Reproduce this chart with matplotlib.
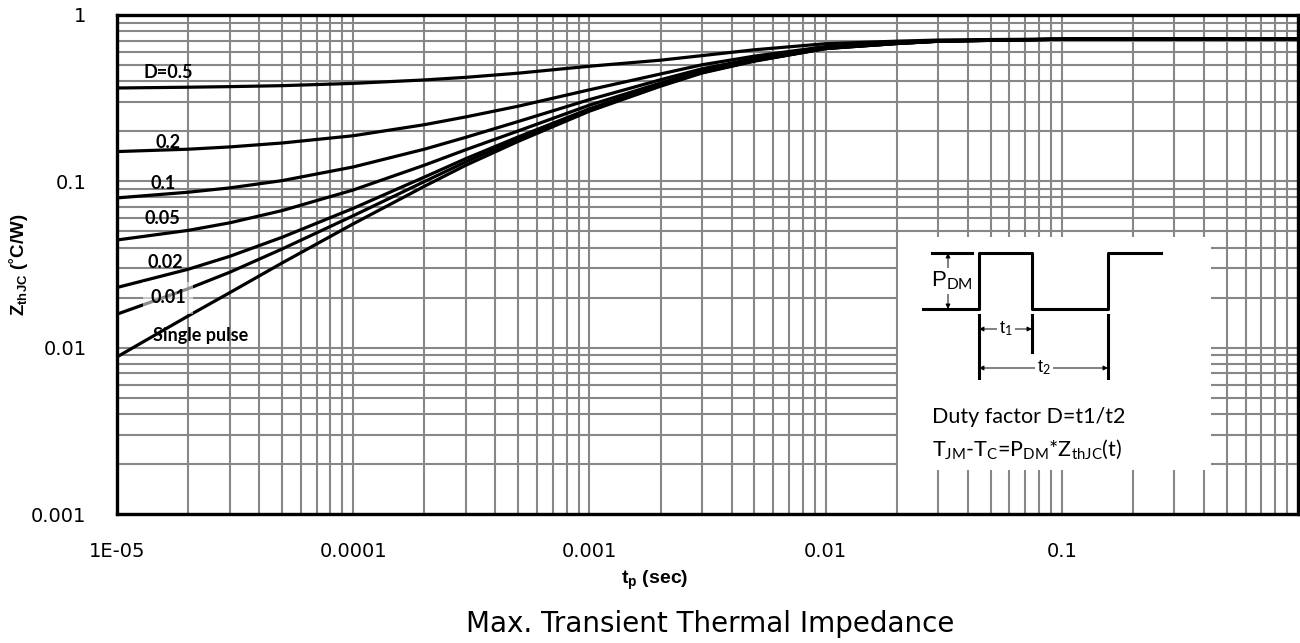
import numpy as np
import matplotlib
matplotlib.use('Agg')
from matplotlib import pyplot as plt
from matplotlib.ticker import LogLocator, NullFormatter, FixedLocator, FixedFormatter

plt.rcParams['mathtext.fontset'] = 'custom'
plt.rcParams['mathtext.rm'] = 'Lato'
plt.rcParams['mathtext.bf'] = 'Liberation Sans:bold'
plt.rcParams['mathtext.it'] = 'Lato:italic'

# pulse width (s)
t_p = [1e-5, 2e-5, 3e-5, 5e-5, 1e-4, 2e-4, 3e-4, 5e-4, 1e-3, 2e-3,
       3e-3, 5e-3, 1e-2, 2e-2, 3e-2, 5e-2, 1e-1, 2e-1, 5e-1, 1.0]

# Z_thJC (C/W) for each duty factor
z_d05 = [0.364, 0.368, 0.371, 0.376, 0.388, 0.407, 0.422, 0.447, 0.492, 0.535,
         0.570, 0.618, 0.672, 0.696, 0.707, 0.712, 0.717, 0.719, 0.72, 0.72]
z_d02 = [0.151, 0.156, 0.161, 0.170, 0.188, 0.219, 0.244, 0.283, 0.355, 0.442,
         0.502, 0.566, 0.646, 0.682, 0.700, 0.707, 0.716, 0.719, 0.72, 0.72]
z_d01 = [0.0795, 0.0860, 0.0913, 0.101, 0.122, 0.156, 0.184, 0.229, 0.310, 0.408,
         0.475, 0.547, 0.637, 0.678, 0.697, 0.706, 0.715, 0.719, 0.72, 0.72]
z_d005 = [0.0444, 0.0507, 0.0563, 0.0667, 0.0887, 0.125, 0.155, 0.201, 0.287, 0.390,
          0.462, 0.538, 0.633, 0.675, 0.696, 0.705, 0.715, 0.719, 0.72, 0.72]
z_d002 = [0.0230, 0.0296, 0.0354, 0.0461, 0.0688, 0.106, 0.137, 0.185, 0.273, 0.380,
          0.453, 0.532, 0.630, 0.674, 0.696, 0.704, 0.715, 0.719, 0.72, 0.72]
z_d001 = [0.0159, 0.0226, 0.0284, 0.0392, 0.0621, 0.0996, 0.131, 0.180, 0.269, 0.377,
          0.451, 0.530, 0.629, 0.674, 0.695, 0.704, 0.715, 0.719, 0.72, 0.72]
z_single = [0.0088, 0.0155, 0.0214, 0.0323, 0.0555, 0.0933, 0.125, 0.174, 0.264, 0.373,
            0.448, 0.528, 0.628, 0.673, 0.695, 0.704, 0.715, 0.719, 0.72, 0.72]

curves = [z_d05, z_d02, z_d01, z_d005, z_d002, z_d001, z_single]

# label text and where it sits (t, Z)
curve_labels = ['D=0.5', '0.2', '0.1', '0.05', '0.02', '0.01', 'Single pulse']
label_t = [1.29e-5, 1.45e-5, 1.39e-5, 1.31e-5, 1.34e-5, 1.38e-5, 1.42e-5]
label_z = [0.454, 0.172, 0.0964, 0.0601, 0.0323, 0.0199, 0.0119]

x_ticks = [1e-5, 1e-4, 1e-3, 1e-2, 1e-1]
x_labels = ['1E-05', '0.0001', '0.001', '0.01', '0.1']
y_ticks = [1e-3, 1e-2, 1e-1, 1]
y_labels = ['0.001', '0.01', '0.1', '1']

fig = plt.figure(figsize=(13, 6.43), dpi=100)
ax = fig.add_axes([117 / 1300, 1 - 514 / 643, (1298 - 117) / 1300, (514 - 15) / 643])

for z in curves:
    ax.plot(t_p, z, color='black', lw=2.3, solid_capstyle='round', zorder=3)

ax.set_xscale('log')
ax.set_yscale('log')
ax.set_xlim(1e-5, 1)
ax.set_ylim(1e-3, 1)

ax.xaxis.set_major_locator(FixedLocator(x_ticks))
ax.xaxis.set_major_formatter(FixedFormatter(x_labels))
ax.yaxis.set_major_locator(FixedLocator(y_ticks))
ax.yaxis.set_major_formatter(FixedFormatter(y_labels))
ax.xaxis.set_minor_locator(LogLocator(base=10, subs=np.arange(2, 10), numticks=20))
ax.yaxis.set_minor_locator(LogLocator(base=10, subs=np.arange(2, 10), numticks=20))
ax.xaxis.set_minor_formatter(NullFormatter())
ax.yaxis.set_minor_formatter(NullFormatter())
ax.tick_params(which='both', length=0, labelsize=14)
ax.tick_params(axis='x', pad=20)
ax.tick_params(axis='y', pad=22)
ax.grid(which='both', color='#878787', lw=1.5, zorder=1)
for s in ax.spines.values():
    s.set_linewidth(2.4)
    s.set_zorder(4)

# curve labels
lab = dict(fontsize=13, fontweight='bold', family=['Lato', 'DejaVu Sans'],
           va='center', ha='left', zorder=5)
for text, t, z in zip(curve_labels, label_t, label_z):
    if text == '0.01':
        ax.text(t, z, text, bbox=dict(boxstyle='square,pad=0.4', fc='white', ec='none', alpha=0.55), **lab)
    else:
        ax.text(t, z, text, **lab)

ax.set_ylabel(r'$\mathbf{Z_{thJC}}$ (˚C/W)', fontsize=13.5, fontweight='bold',
              family=['Liberation Sans', 'DejaVu Sans'])
ax.yaxis.set_label_coords(-0.074, 0.5)
fig.text(655 / 1300, 1 - 580 / 643, r'$\mathbf{t_p}$ (sec)', fontsize=14,
         fontweight='bold', family=['Liberation Sans', 'DejaVu Sans'], ha='center', va='center')
fig.text(710 / 1300, 1 - 624 / 643, 'Max. Transient Thermal Impedance', fontsize=20,
         ha='center', va='center')

# pulse diagram panel
box = fig.add_axes([898 / 1300, 1 - 470 / 643, (1211 - 898) / 1300, (470 - 237) / 643])
box.set_xlim(898, 1211)
box.set_ylim(470, 237)
box.set_facecolor('white')
box.set_zorder(2)
for s in box.spines.values():
    s.set_visible(False)
box.set_xticks([])
box.set_yticks([])

lo, hi = 309, 253
box.plot([923, 979, 979, 1032, 1032, 1108, 1108, 1161],
         [lo, lo, hi, hi, lo, lo, hi, hi], color='black', lw=2.2)
box.plot([932, 972], [hi, hi], color='black', lw=2.2)
box.plot([979, 979], [315, 378], color='black', lw=2.2)
box.plot([1032, 1032], [315, 352], color='black', lw=2.2)
box.plot([1108, 1108], [315, 378], color='black', lw=2.2)

arr = dict(arrowstyle='-|>', color='black', lw=0.7, mutation_scale=7, shrinkA=0, shrinkB=0)
diag = dict(family=['Liberation Sans', 'DejaVu Sans'], ha='center', va='center',
            bbox=dict(boxstyle='square,pad=0.1', fc='white', ec='none'))

box.annotate('', xy=(948, hi), xytext=(948, 281), arrowprops=arr)
box.annotate('', xy=(948, lo), xytext=(948, 281), arrowprops=arr)
box.text(952, 281, r'P$_{\mathrm{DM}}$', fontsize=16, **diag)

box.annotate('', xy=(979, 329), xytext=(1005, 329), arrowprops=arr)
box.annotate('', xy=(1032, 329), xytext=(1005, 329), arrowprops=arr)
box.text(1006, 329, r't$_{\mathrm{1}}$', fontsize=13, **diag)

box.annotate('', xy=(979, 368), xytext=(1043, 368), arrowprops=arr)
box.annotate('', xy=(1108, 368), xytext=(1043, 368), arrowprops=arr)
box.text(1044, 368, r't$_{\mathrm{2}}$', fontsize=13, **diag)

box.text(932, 417, 'Duty factor D=t1/t2', fontsize=15.5, family=['Lato', 'DejaVu Sans'],
         ha='left', va='center')
box.text(932, 449, r'T$_{\mathrm{JM}}$-T$_{\mathrm{C}}$=P$_{\mathrm{DM}}$*Z$_{\mathrm{thJC}}$(t)',
         fontsize=15.5, family=['Lato', 'DejaVu Sans'], ha='left', va='center')

fig.savefig('out.png', dpi=100)
